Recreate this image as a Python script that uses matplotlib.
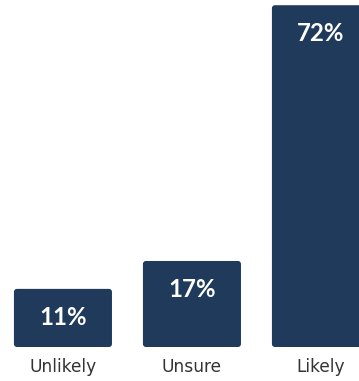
import matplotlib.pyplot as plt
from matplotlib.patches import FancyBboxPatch

categories = ['Unlikely', 'Unsure', 'Likely']
values = [11, 17, 72]
labels = ['11%', '17%', '72%']

navy = '#1f3a5a'
base = -1.5        # bars start just below zero
bar_w = 0.76

fig = plt.figure(figsize=(359 / 72, 381 / 72), dpi=72)
ax = fig.add_axes([0, 0, 1, 1])
ax.set_xlim(-0.488, 2.295)
ax.set_ylim(-8.81, 73.12)
ax.axis('off')

# pixels -> data units, used to keep the corner rounding circular
px_x = (2.295 + 0.488) / 359
px_y = (73.12 + 8.81) / 381

for i, (cat, v, lab) in enumerate(zip(categories, values, labels)):
    patch = FancyBboxPatch((i - bar_w / 2, base), bar_w, v - base,
                           boxstyle='round,pad=0,rounding_size=%f' % (3 * px_x),
                           mutation_aspect=px_y / px_x,
                           facecolor=navy, edgecolor='none')
    ax.add_patch(patch)
    ax.annotate(lab, (i, v), xytext=(0, -36), textcoords='offset points',
                ha='center', va='baseline', color='white', fontsize=24,
                fontweight='bold', family='Lato')
    ax.annotate(cat, (i, base), xytext=(0, -25), textcoords='offset points',
                ha='center', va='baseline', color='#333333', fontsize=17,
                family='DejaVu Sans')

fig.savefig('out.png', dpi=72, facecolor='white')
